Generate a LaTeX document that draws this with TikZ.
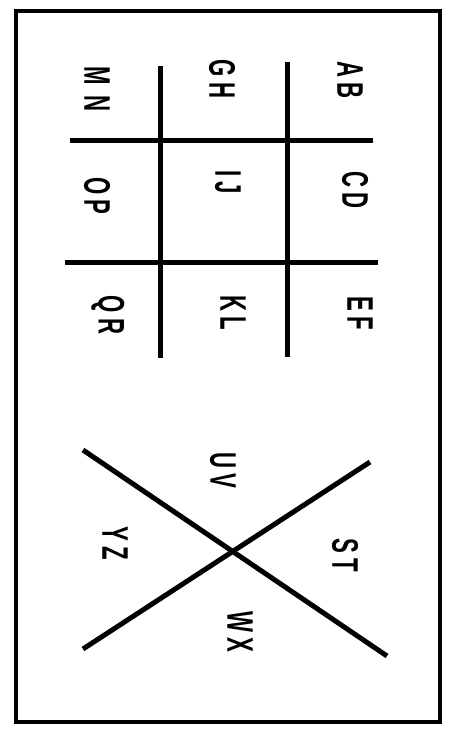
\documentclass[tikz,border=0pt]{standalone}
\usepackage{fontspec}
\setmainfont{Liberation Sans}
\tikzset{
    cipherline/.style={line width=5pt},
    pair/.style={rotate=-90, inner sep=0pt, font=\bfseries\fontsize{37}{37}\selectfont}
}
\newcommand{\narrow}[2]{\scalebox{0.6}[1]{#1\kern8pt#2}}
\begin{document}
\begin{tikzpicture}[x=1pt, y=-1pt]
    \useasboundingbox (0,0) rectangle (450,733);
    \draw[line width=4.5pt] (16,11) rectangle (440,722);

    % grid of nine cells
    \draw[cipherline] (160,66) -- (160,358);
    \draw[cipherline] (287,62) -- (287,357);
    \draw[cipherline] (70,140) -- (373,140);
    \draw[cipherline] (65,262) -- (378,262);

    \node[pair] (ab) at (350,80) {\narrow{A}{B}};
    \node[pair] (gh) at (222,79) {\narrow{G}{H}};
    \node[pair] (mn) at (97,89) {\narrow{M}{\kern8pt N}};
    \node[pair] (cd) at (355,190) {\narrow{C}{D}};
    \node[pair] (ij) at (228,182) {\narrow{I}{J}};
    \node[pair] (op) at (97,196) {\narrow{O}{P}};
    \node[pair] (ef) at (360,313) {\narrow{E}{F}};
    \node[pair] (kl) at (233,313) {\narrow{K}{L}};
    \node[pair] (qr) at (108,315) {\narrow{Q}{R}};

    % the cross
    \draw[cipherline] (83,450) -- (387,656);
    \draw[cipherline] (370,462) -- (83,649);

    \node[pair] (uv) at (223,470) {\narrow{U}{V}};
    \node[pair] (st) at (345,555) {\narrow{S}{T}};
    \node[pair] (yz) at (115,543) {\narrow{Y}{Z}};
    \node[pair] (wx) at (240,632) {\narrow{W}{X}};
\end{tikzpicture}
\end{document}
